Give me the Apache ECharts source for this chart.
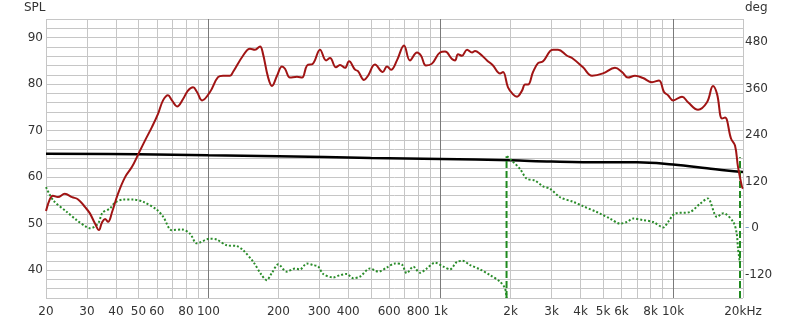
<!DOCTYPE html>
<html>
<head>
<meta charset="utf-8">
<script src="https://cdn.jsdelivr.net/npm/echarts@6/dist/echarts.min.js"></script>
<style>html,body{margin:0;padding:0;background:#fff}#c{width:800px;height:324px}</style>
</head>
<body>
<div id="c"></div>
<script>
// ---- axes ----
const freqGrid = [20,30,40,50,60,70,80,90,100,200,300,400,500,600,700,800,900,1000,2000,3000,4000,5000,6000,7000,8000,9000,10000,20000];
const freqLabels = [20,30,40,50,60,80,100,200,300,400,600,800,1000,2000,3000,4000,5000,6000,8000,10000,20000];
const freqLabelText = ['20','30','40','50','60','80','100','200','300','400','600','800','1k','2k','3k','4k','5k','6k','8k','10k','20kHz'];
const decadeLines = [100,1000,10000];

// ---- SPL (red) ----
const splFreq = [20,20.8,21.4,22.5,24.1,25.9,27.5,29.4,30.9,32.5,33.8,34.8,35.9,37,38.5,40.8,43.8,46.9,50,53.4,57.2,60.7,63.8,67,69.7,73.3,77.8,81.7,85.9,89.3,93.9,101.6,110,115.6,123.9,127.6,140.9,151,158.7,166.8,171.8,180.6,187.8,197.4,207.4,213.7,224.5,240.6,252.9,265.8,282.1,302.4,320.9,333.8,354.2,368.5,387.3,403,427.7,440.6,467.5,486.4,521,563,587,611,648,695,737,791,823,864,917,993,1044,1118,1152,1187,1235,1298,1364,1405,1476,1582,1679,1800,1854,1948,2047,2130,2238,2306,2375,2496,2623,2757,2954,3043,3198,3497,3675,4097,4479,4994,5624,6030,6398,6857,7424,8116,8699,9141,9512,10000,10928,11596,12808,14000,14858,15460,16244,16734,17758,18476,19034,19802,20000];
const splDb = [52.7,55.3,56.0,55.7,56.4,55.7,55.2,53.6,52.2,50.0,48.6,50.2,51.0,50.4,52.5,56.4,60.0,62.2,65.0,67.9,70.8,73.6,76.5,77.6,76.5,75.2,76.8,78.6,79.3,78.3,76.5,78.3,81.5,81.8,81.8,82.6,86.1,87.6,87.4,88.1,86.5,81.5,79.6,81.8,83.8,83.3,81.4,81.6,81.4,84.0,84.4,87.4,85.1,85.6,83.6,84.1,83.5,84.9,83.1,82.8,80.9,81.8,84.2,82.6,83.8,83.1,85.1,88.3,85.1,86.8,86.1,84.0,84.4,86.8,87.0,85.4,85.1,86.4,86.1,87.4,86.8,87.1,86.5,85.1,84.0,82.3,82.6,79.3,77.8,77.3,78.6,79.9,79.9,82.6,84.5,84.9,87.1,87.4,87.4,86.1,85.6,83.6,81.8,82.3,83.5,82.6,81.4,81.8,81.3,80.4,80.8,78.3,77.6,76.5,77.3,76.1,74.5,76.1,79.6,77.9,72.6,72.8,68.3,66.8,62.2,57.9,57.5];

// ---- second SPL curve (black) ----
const blackFreq = [20,50,100,200,500,1000,2000,3000,5000,7000,10000,14000,17000,20000];
const blackDb = [65.0,64.9,64.7,64.5,64.1,63.9,63.6,63.35,63.2,63.2,62.7,61.9,61.4,61.1];

// ---- phase (green dotted), before and after wrap ----
const phaseFreqA = [20,21.5,24.6,27.1,29.9,31,33.5,35,37.7,39.6,43,47.5,52.5,59.9,64,69.5,76.8,83.4,89.1,101.6,108.6,119.9,132.4,141.3,156.1,169.6,178.2,187.3,200,217.3,235.9,248,265,282,297,312,345,368.5,394,420,449,496,539,587,636,679,714,762,814,870,945,1026,1096,1172,1240,1337,1476,1630,1800,1891,1920];
const phaseDegA = [106,72,42,21,3,0,12,40,51,66,74,74,68,48,29,-5,-3,-14,-39,-27,-29,-44,-46,-57,-87,-121,-134,-116,-93,-112,-104,-106,-91,-95,-99,-118,-127,-121,-118,-129,-125,-104,-112,-101,-91,-93,-116,-99,-115,-104,-89,-99,-106,-87,-84,-95,-106,-121,-138,-155,-180];
const phaseFreqB = [1930,2021,2194,2344,2546,2757,2954,3262,3722,4097,4692,4848,5354,5912,6316,6743,7424,8222,9078,9512,10197,11832,13062,14100,15460,16454,18168,18792,19034,19415];
const phaseDegB = [186,175,153,128,123,108,102,80,68,57,42,38,25,12,16,25,21,16,2,16,38,42,63,77,29,39,16,-14,-52,-91];

// ---- phase wraps (green dashed) ----
const wrapFreq = [1920,19415];
const wrapLow = [-180,-180];
const wrapHigh = [186,183];

const lg = Math.log10;
const XMIN = lg(20), XMAX = lg(20000);
const xy = (fs, vs) => fs.map((f, i) => [lg(f), vs[i]]);

const wrapData = [];
wrapFreq.forEach((f, i) => {
  if (i > 0) wrapData.push([lg(f) - 0.01, null]);
  wrapData.push([lg(f), wrapLow[i]]);
  wrapData.push([lg(f), wrapHigh[i]]);
});

const FONT = 'DejaVu Sans';
const TXT = '#333';

const chart = echarts.init(document.getElementById('c'), null, {renderer: 'canvas'});
chart.setOption({
  animation: false,
  backgroundColor: '#fff',
  grid: {left: 46, right: 57, top: 19, bottom: 26, containLabel: false},
  graphic: [
    {type: 'text', left: 24, top: 2, style: {text: 'SPL', fill: TXT, font: '12px "DejaVu Sans"'}},
    {type: 'text', left: 745, top: 2, style: {text: 'deg', fill: TXT, font: '12px "DejaVu Sans"'}}
  ],
  xAxis: [
    {
      type: 'value', min: XMIN, max: XMAX,
      axisLine: {show: false},
      axisTick: {show: false, customValues: freqGrid.map(lg)},
      splitLine: {show: true, lineStyle: {color: '#c6c6c6', width: 1}},
      axisLabel: {
        customValues: freqLabels.map(lg), margin: 8,
        color: TXT, fontFamily: FONT, fontSize: 12,
        formatter: v => {
          let best = 0, bd = 1e9;
          freqLabels.forEach((f, i) => { const d = Math.abs(lg(f) - v); if (d < bd) { bd = d; best = i; } });
          return freqLabelText[best];
        }
      }
    },
    {
      type: 'value', min: XMIN, max: XMAX, position: 'bottom',
      axisLine: {show: false},
      axisTick: {show: false, customValues: decadeLines.map(lg)},
      axisLabel: {show: false},
      splitLine: {show: true, lineStyle: {color: '#7a7a7a', width: 1}}
    }
  ],
  yAxis: [
    {
      type: 'value', min: 34, max: 94, interval: 2, position: 'left',
      axisLine: {show: false}, axisTick: {show: false},
      splitLine: {show: true, lineStyle: {color: '#c6c6c6', width: 1}},
      axisLabel: {
        margin: 3, color: TXT, fontFamily: FONT, fontSize: 12,
        formatter: v => (v % 10 === 0 ? String(v) : '')
      }
    },
    {
      type: 'value', min: -180, max: 540, interval: 60, position: 'right',
      axisLine: {show: false}, axisTick: {show: false}, splitLine: {show: false},
      axisLabel: {
        margin: 2, color: TXT, fontFamily: FONT, fontSize: 12,
        formatter: v => {
          if (v === 0) return '{d|-}{n|0}';
          return (v % 120 === 0) ? String(v) : '';
        },
        rich: {
          d: {color: '#7f9fc8', fontFamily: FONT, fontSize: 12, padding: [0, 2, 0, 0]},
          n: {color: TXT, fontFamily: FONT, fontSize: 12}
        }
      }
    }
  ],
  series: [
    {
      type: 'line', name: 'ref', xAxisIndex: 0, yAxisIndex: 0,
      data: xy(blackFreq, blackDb), smooth: 0.4, showSymbol: false,
      lineStyle: {color: '#000', width: 2.5}, z: 3
    },
    {
      type: 'line', name: 'phaseA', xAxisIndex: 0, yAxisIndex: 1,
      data: xy(phaseFreqA, phaseDegA), smooth: 0.3, showSymbol: false,
      lineStyle: {color: '#2a8c2a', width: 2, type: [2, 2]}, z: 4
    },
    {
      type: 'line', name: 'phaseB', xAxisIndex: 0, yAxisIndex: 1,
      data: xy(phaseFreqB, phaseDegB), smooth: 0.3, showSymbol: false,
      lineStyle: {color: '#2a8c2a', width: 2, type: [2, 2]}, z: 4
    },
    {
      type: 'line', name: 'wrap', xAxisIndex: 0, yAxisIndex: 1,
      data: wrapData, showSymbol: false, connectNulls: false,
      lineStyle: {color: '#1f8a1f', width: 2, type: [7, 3]}, z: 4
    },
    {
      type: 'line', name: 'SPL', xAxisIndex: 0, yAxisIndex: 0,
      data: xy(splFreq, splDb), smooth: 0.4, showSymbol: false,
      lineStyle: {color: '#a01414', width: 2}, z: 5
    }
  ]
});
</script>
</body>
</html>
